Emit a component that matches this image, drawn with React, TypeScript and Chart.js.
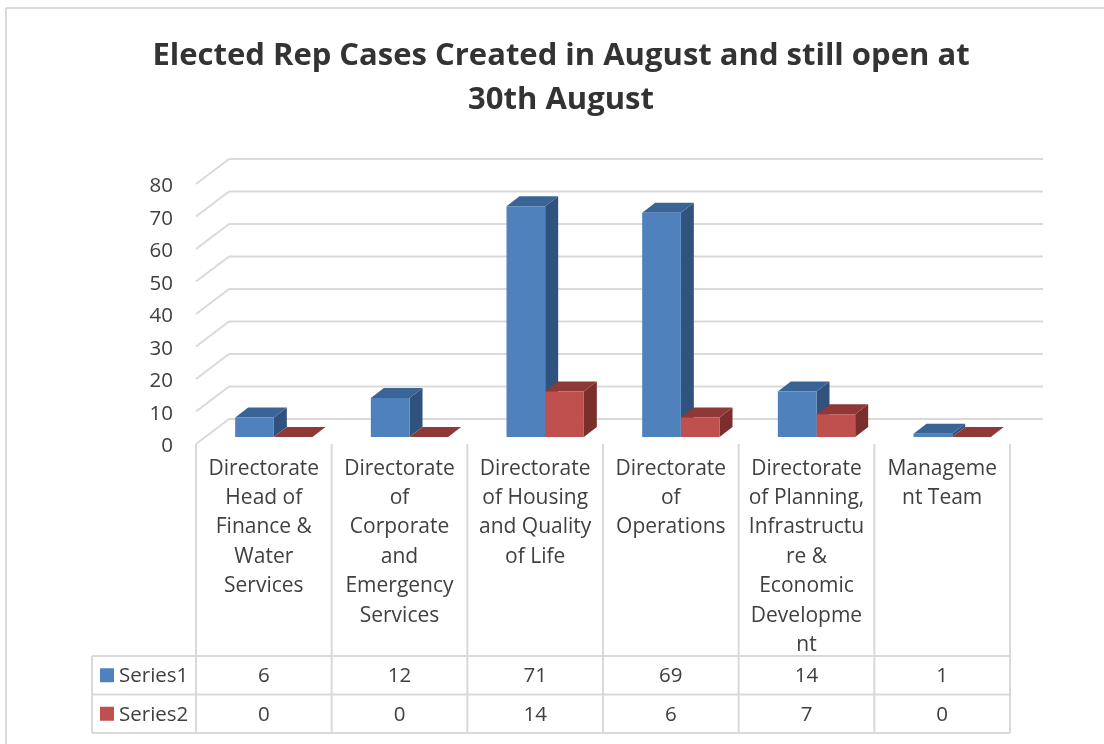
import React, { useEffect, useRef } from "react";
import { Chart, registerables } from "chart.js";

Chart.register(...registerables);

const titleLines = ["Elected Rep Cases Created in August and still open at", "30th August"];
const categories = [
  ["Directorate", "Head of", "Finance &", "Water", "Services"],
  ["Directorate", "of", "Corporate", "and", "Emergency", "Services"],
  ["Directorate", "of Housing", "and Quality", "of Life"],
  ["Directorate", "of", "Operations"],
  ["Directorate", "of Planning,", "Infrastructu", "re &", "Economic", "Developme", "nt"],
  ["Manageme", "nt Team"],
];
const series1 = [6, 12, 71, 69, 14, 1];
const series2 = [0, 0, 14, 6, 7, 0];
const seriesNames = ["Series1", "Series2"];
const tickStep = 10;
const axisMax = 80;

const FONT = '"Open Sans", sans-serif';
const TEXT = "#404040";
const TITLE = "#333333";
const LINE = "#D9D9D9";
const FRONT = ["#4F81BD", "#C0504D"];
const SIDE = ["#30527E", "#7A2F2D"];
const TOP = ["#3B6496", "#8E3937"];

const poly = (ctx: CanvasRenderingContext2D, pts: number[][], fill: string) => {
  ctx.beginPath();
  pts.forEach((p, i) => (i ? ctx.lineTo(p[0], p[1]) : ctx.moveTo(p[0], p[1])));
  ctx.closePath();
  ctx.fillStyle = fill;
  ctx.fill();
};

const line = (ctx: CanvasRenderingContext2D, x1: number, y1: number, x2: number, y2: number) => {
  ctx.beginPath();
  ctx.moveTo(x1, y1);
  ctx.lineTo(x2, y2);
  ctx.stroke();
};

const threeD = {
  id: "threeD",
  beforeDatasetsDraw(chart: any) {
    const ctx: CanvasRenderingContext2D = chart.ctx;
    const y = chart.scales.y;
    const area = chart.chartArea;
    const xFront = area.left - 10;
    const xBack = xFront + 33;
    const xEnd = area.right + 23;
    ctx.save();

    // outer frame
    ctx.strokeStyle = LINE;
    ctx.lineWidth = 2;
    line(ctx, 6, 8, 1104, 8);
    line(ctx, 6, 8, 6, 744);

    // floor and back-wall gridlines
    y.ticks.forEach((t: any) => {
      const py = y.getPixelForValue(t.value);
      line(ctx, xFront, py + 7, xBack, py - 18);
      line(ctx, xBack, py - 18, xEnd, py - 18);
    });

    // data table
    const cols = categories.length;
    const cw = (area.right - area.left) / cols;
    const legendLeft = 92;
    const rows = [656, 694.5, 733];
    rows.forEach((r) => line(ctx, legendLeft, r, xFront + cw * cols, r));
    line(ctx, legendLeft, rows[0], legendLeft, rows[2]);
    for (let i = 0; i <= cols; i++) {
      line(ctx, xFront + cw * i, area.bottom + 7, xFront + cw * i, rows[2]);
    }
    ctx.font = `20.5px ${FONT}`;
    ctx.textBaseline = "middle";
    [series1, series2].forEach((vals, s) => {
      const cy = (rows[s] + rows[s + 1]) / 2;
      ctx.fillStyle = FRONT[s];
      ctx.fillRect(100, cy - 7, 14, 14);
      ctx.fillStyle = TEXT;
      ctx.textAlign = "left";
      ctx.fillText(seriesNames[s], 119, cy + 1);
      ctx.textAlign = "center";
      vals.forEach((v, i) => ctx.fillText(String(v), xFront + cw * (i + 0.5), cy + 1));
    });

    // bar depth: sides and tops, behind the library's bar fronts
    const dx = 13;
    const dy = 10;
    [0, 1].forEach((s) => {
      chart.getDatasetMeta(s).data.forEach((bar: any) => {
        const l = bar.x - bar.width / 2;
        const r = bar.x + bar.width / 2;
        poly(ctx, [[r, bar.y], [r + dx, bar.y - dy], [r + dx, bar.base - dy], [r, bar.base]], SIDE[s]);
        poly(ctx, [[l, bar.y], [l + dx, bar.y - dy], [r + dx, bar.y - dy], [r, bar.y]], TOP[s]);
      });
    });
    ctx.restore();
  },
};

export default function App() {
  const ref = useRef<HTMLCanvasElement>(null);
  useEffect(() => {
    const chart = new Chart(ref.current!, {
      type: "bar",
      data: {
        labels: categories,
        datasets: [
          { label: seriesNames[0], data: series1, backgroundColor: FRONT[0] },
          { label: seriesNames[1], data: series2, backgroundColor: FRONT[1] },
        ],
      },
      plugins: [threeD],
      options: {
        animation: false,
        responsive: false,
        layout: { autoPadding: false, padding: { left: 102, right: 84, top: 0, bottom: 0 } },
        datasets: { bar: { categoryPercentage: 0.57, barPercentage: 1 } },
        plugins: {
          legend: { display: false },
          tooltip: { enabled: false },
          title: {
            display: true,
            text: titleLines,
            color: TITLE,
            font: { family: FONT, size: 31, weight: "bold", lineHeight: 1.42 },
            padding: { top: 34, bottom: 55 },
          },
        },
        scales: {
          x: {
            grid: { display: false, drawTicks: false },
            border: { display: false },
            afterFit: (s: any) => { s.height = 307; },
            ticks: {
              autoSkip: false,
              minRotation: 0,
              maxRotation: 0,
              labelOffset: -10,
              padding: 17,
              color: TEXT,
              font: { family: FONT, size: 21, lineHeight: 1.4 },
            },
          },
          y: {
            min: 0,
            max: axisMax,
            grid: { display: false, drawTicks: false },
            border: { display: false },
            afterFit: (s: any) => { s.width = 104; },
            ticks: {
              stepSize: tickStep,
              labelOffset: 9.5,
              padding: 33,
              color: TEXT,
              font: { family: FONT, size: 20.5 },
            },
          },
        },
      },
    } as any);
    return () => chart.destroy();
  }, []);
  return (
    <canvas
      ref={ref}
      width={1104}
      height={744}
      style={{ position: "absolute", left: 0, top: 0, width: 1104, height: 744 }}
    />
  );
}
